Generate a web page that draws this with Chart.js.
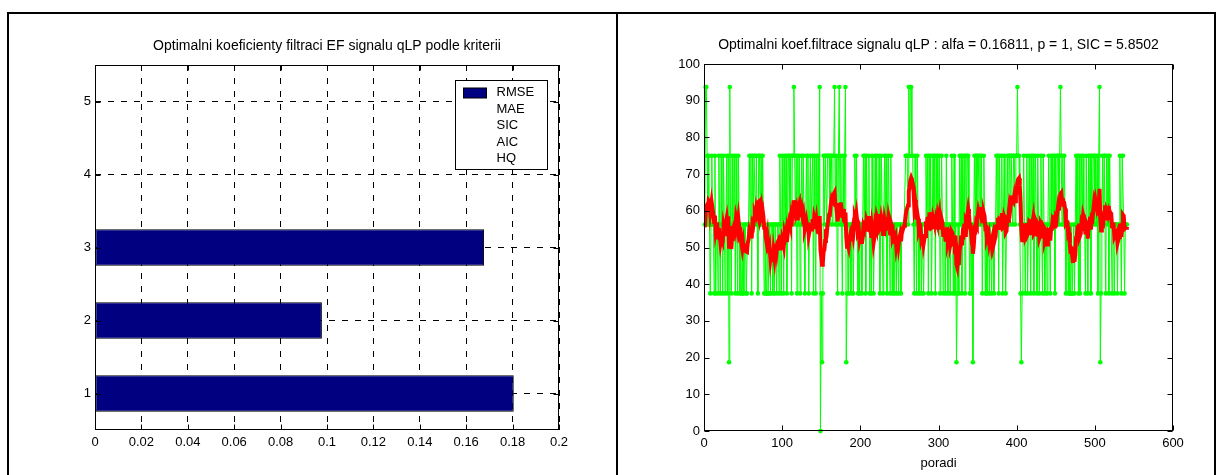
<!DOCTYPE html>
<html>
<head>
<meta charset="utf-8">
<script src="https://cdn.jsdelivr.net/npm/chart.js@4"></script>
<style>
  html, body { margin: 0; padding: 0; background: #fff; }
  body { width: 1222px; height: 475px; position: relative; overflow: hidden; }
  canvas { position: absolute; top: 0; }
  #leftChart { left: 0; }
  #rightChart { left: 617px; }
  .frame { position: absolute; left: 7px; top: 12px; width: 1205px; height: 470px; border: 2px solid #000; }
  .divider { position: absolute; left: 616px; top: 12px; width: 2px; height: 475px; background: #000; }
</style>
</head>
<body>
<canvas id="leftChart" width="617" height="475"></canvas>
<canvas id="rightChart" width="605" height="475"></canvas>
<div class="frame"></div>
<div class="divider"></div>
<script>
// left panel: optimal coefficients per criterion
const barCategories = ['1', '2', '3', '4', '5'];
const barValues = [0.1805, 0.0978, 0.1677, null, 0.0003];
const legendLabels = ['RMSE', 'MAE', 'SIC', 'AIC', 'HQ'];
const leftTitle = 'Optimalni koeficienty filtraci EF signalu qLP podle kriterii';

// right panel: signal qLP (green) and filtered signal (red)
const rightTitle = 'Optimalni koef.filtrace signalu qLP : alfa = 0.16811, p = 1, SIC = 5.8502';
const xAxisLabel = 'poradi';
const signalValues = [
  56.25,93.75,93.75,75,56.25,75,56.25,37.5,56.25,75,56.25,56.25,37.5,75,37.5,56.25,56.25,37.5,75,56.25,
  37.5,75,56.25,37.5,75,56.25,37.5,56.25,75,37.5,75,18.75,93.75,56.25,37.5,75,56.25,56.25,75,37.5,
  75,56.25,37.5,75,56.25,37.5,56.25,37.5,37.5,56.25,37.5,56.25,56.25,37.5,37.5,56.25,56.25,75,56.25,75,
  37.5,75,56.25,75,75,56.25,75,56.25,37.5,75,75,56.25,75,56.25,75,56.25,37.5,56.25,37.5,37.5,
  56.25,37.5,37.5,56.25,37.5,56.25,56.25,37.5,56.25,37.5,56.25,56.25,37.5,56.25,56.25,37.5,75,56.25,37.5,75,
  56.25,37.5,75,56.25,75,37.5,56.25,75,75,56.25,75,37.5,75,75,93.75,75,56.25,75,37.5,75,
  56.25,75,37.5,56.25,75,56.25,75,56.25,37.5,56.25,75,56.25,75,37.5,56.25,75,56.25,56.25,75,37.5,
  75,56.25,37.5,75,56.25,75,56.25,93.75,0,37.5,18.75,37.5,75,56.25,75,75,56.25,75,75,75,
  56.25,75,75,56.25,75,75,93.75,56.25,75,56.25,37.5,75,93.75,56.25,75,56.25,37.5,75,56.25,75,
  93.75,18.75,37.5,56.25,37.5,56.25,56.25,37.5,56.25,56.25,37.5,56.25,75,56.25,75,56.25,37.5,56.25,37.5,56.25,
  56.25,37.5,56.25,75,56.25,75,37.5,75,56.25,56.25,75,37.5,56.25,37.5,75,56.25,37.5,56.25,75,56.25,
  75,56.25,56.25,75,37.5,56.25,75,56.25,37.5,56.25,75,56.25,75,37.5,56.25,75,56.25,37.5,75,56.25,
  37.5,56.25,37.5,56.25,56.25,37.5,56.25,56.25,37.5,56.25,56.25,37.5,56.25,56.25,56.25,56.25,56.25,75,75,75,
  56.25,93.75,75,93.75,93.75,75,75,56.25,37.5,75,56.25,37.5,75,56.25,37.5,56.25,56.25,37.5,56.25,56.25,
  37.5,56.25,56.25,75,56.25,75,37.5,75,56.25,75,37.5,56.25,75,56.25,75,37.5,75,56.25,75,56.25,
  75,37.5,56.25,75,56.25,37.5,56.25,56.25,37.5,75,56.25,37.5,56.25,56.25,37.5,56.25,75,56.25,37.5,75,
  37.5,56.25,18.75,37.5,56.25,37.5,75,56.25,75,37.5,75,56.25,75,37.5,75,56.25,75,75,56.25,37.5,
  56.25,37.5,56.25,18.75,56.25,75,56.25,75,56.25,75,75,56.25,75,56.25,75,37.5,56.25,75,56.25,37.5,
  56.25,37.5,56.25,56.25,37.5,56.25,56.25,37.5,56.25,56.25,37.5,56.25,56.25,75,56.25,75,37.5,75,56.25,56.25,
  75,37.5,56.25,75,56.25,37.5,56.25,75,56.25,75,75,56.25,75,75,56.25,75,75,56.25,75,75,
  93.75,75,75,56.25,37.5,18.75,37.5,56.25,75,56.25,37.5,56.25,75,37.5,56.25,75,56.25,37.5,75,56.25,
  75,37.5,56.25,75,56.25,37.5,75,56.25,37.5,56.25,75,56.25,37.5,75,56.25,37.5,56.25,56.25,37.5,56.25,
  75,56.25,37.5,75,56.25,75,56.25,75,37.5,75,56.25,75,75,56.25,75,93.75,75,56.25,75,56.25,
  75,56.25,37.5,56.25,56.25,37.5,56.25,37.5,37.5,56.25,37.5,37.5,56.25,37.5,56.25,75,56.25,75,37.5,75,
  37.5,56.25,75,56.25,75,56.25,56.25,37.5,75,56.25,37.5,75,56.25,75,37.5,75,56.25,75,75,56.25,
  75,56.25,75,37.5,75,93.75,18.75,37.5,56.25,75,56.25,75,75,37.5,75,56.25,75,37.5,75,56.25,
  56.25,37.5,56.25,56.25,37.5,56.25,56.25,56.25,37.5,56.25,56.25,75,56.25,37.5,75,75,56.25,37.5,56.25,56.25,56.25
];
const filteredValues = [
  55.5,58.8,61.2,61.6,60.3,62.8,62.5,59.7,61.3,58.4,60.5,59.0,56.9,58.7,54.5,55.7,55.9,52.7,55.3,53.3,
  51.3,52.7,52.1,52.0,55.7,54.5,53.6,56.7,57.9,55.6,58.5,50.2,55.8,51.4,49.6,53.1,52.9,55.6,56.3,55.2,
  58.2,57.2,55.6,57.7,55.6,53.2,53.6,51.0,49.6,51.0,48.8,50.0,50.2,48.9,48.8,51.3,52.2,54.3,53.4,55.4,
  52.5,56.5,56.0,58.0,59.4,58.8,60.7,59.7,58.8,62.5,62.7,60.7,61.6,59.2,60.0,58.3,55.4,55.6,52.9,51.5,
  53.0,50.0,48.5,49.7,47.0,48.7,48.7,46.1,48.9,47.3,50.3,51.0,49.2,51.3,51.8,49.7,53.3,52.0,49.4,52.0,
  51.1,50.2,53.9,53.0,54.3,51.5,53.7,55.9,57.2,56.3,58.0,55.7,59.3,61.0,62.9,61.1,59.4,60.4,57.9,61.5,
  61.4,62.1,58.7,59.4,60.5,58.8,59.6,57.3,54.9,55.7,57.1,55.7,56.8,53.3,54.4,55.3,54.9,55.2,57.7,55.0,
  58.3,57.5,55.1,57.1,55.2,55.5,53.7,58.6,49.2,47.6,45.3,45.8,48.9,49.3,51.8,53.9,53.7,56.1,57.5,58.9,
  59.0,61.4,62.8,62.0,63.9,64.6,65.0,61.6,61.6,59.5,57.1,59.3,62.1,60.3,62.3,60.4,58.1,60.5,57.3,57.0,
  59.5,52.8,50.2,50.9,50.0,51.9,53.1,51.8,53.6,54.9,53.4,55.2,58.3,57.6,59.1,57.2,54.5,55.1,52.4,53.5,
  53.2,51.0,52.6,55.7,55.1,57.4,54.3,57.6,57.0,56.8,58.6,55.2,55.4,52.6,55.8,54.3,51.4,52.8,56.4,55.6,
  58.4,57.6,57.5,59.1,55.2,55.6,57.9,56.8,53.7,54.5,57.5,56.3,58.2,54.6,55.8,58.3,57.1,53.8,56.9,56.2,
  52.8,53.6,51.0,52.5,53.1,50.4,51.8,53.2,50.9,52.6,53.5,51.7,53.8,54.6,55.3,55.9,56.8,58.7,60.1,60.8,
  61.5,65.2,66.4,68.3,69.0,68.4,67.6,65.8,61.6,63.0,61.2,57.6,59.1,57.8,54.4,55.0,55.3,52.3,53.1,53.7,
  51.1,52.4,53.1,56.0,55.8,58.3,54.7,57.9,57.5,59.6,55.4,55.6,58.1,57.2,59.0,54.9,57.6,56.8,58.9,57.9,
  59.1,55.4,55.6,57.7,56.8,53.4,54.1,54.4,51.6,54.8,54.9,51.7,52.7,53.4,50.6,51.6,54.3,53.9,50.3,53.3,
  50.4,50.9,45.4,44.6,46.8,45.2,49.3,50.4,53.2,50.6,53.9,53.6,56.5,53.4,56.8,56.2,58.9,60.5,59.1,55.8,
  55.9,53.1,53.7,48.3,50.2,53.6,53.9,56.6,56.1,58.4,60.1,59.2,60.8,59.5,61.0,57.2,57.1,59.3,58.4,55.2,
  55.3,52.5,53.2,53.9,51.4,52.6,53.3,51.1,52.8,53.7,51.3,52.2,53.0,55.8,55.9,58.1,54.8,57.7,57.5,57.3,
  59.4,55.3,55.5,58.3,57.6,54.1,54.5,57.6,57.3,59.8,61.8,60.9,62.8,64.2,62.9,62.5,64.0,62.6,64.2,65.5,
  67.9,68.6,68.9,66.8,61.9,54.8,52.0,52.7,56.0,55.9,52.8,53.4,56.7,53.6,54.1,56.9,56.6,53.4,56.7,56.5,
  57.8,53.9,54.3,57.2,56.5,53.0,56.4,56.0,52.6,53.3,56.4,55.9,52.5,55.8,55.4,52.0,52.8,53.4,50.8,51.9,
  54.8,54.9,51.9,55.1,55.2,57.4,56.9,58.8,55.2,58.0,57.5,59.6,61.2,60.1,61.5,64.6,64.9,62.5,63.4,61.8,
  61.9,60.6,56.8,57.2,57.0,53.6,54.0,51.0,48.3,50.3,47.7,45.8,48.2,46.1,48.3,52.5,53.0,56.0,53.1,56.5,
  53.2,53.8,56.9,56.4,58.9,58.1,57.8,53.6,56.7,56.1,52.4,55.9,55.8,58.4,54.9,58.1,57.8,60.1,62.1,60.8,
  62.6,61.4,63.0,58.7,60.9,66.0,58.1,54.6,55.0,57.7,57.2,59.5,61.5,57.4,59.9,59.2,61.3,57.5,59.9,59.4,
  59.2,55.7,56.0,56.1,52.9,53.4,53.8,54.2,51.2,52.1,52.8,56.0,56.0,52.9,56.2,58.9,58.6,55.1,55.3,55.4,55.6
];

const fontFamily = '"Liberation Sans", Arial, sans-serif';
const tickFont = { family: fontFamily, size: 13 };

// MATLAB-style axes box with inward tick marks
const axesBox = {
  id: 'axesBox',
  afterDatasetsDraw(chart) {
    const { ctx, chartArea: a, scales } = chart;
    const L = Math.round(a.left) + 0.5, R = Math.round(a.right) - 0.5;
    const T = Math.round(a.top) + 0.5, B = Math.round(a.bottom) - 0.5;
    ctx.save();
    ctx.strokeStyle = '#000';
    ctx.lineWidth = 1;
    ctx.setLineDash([]);
    ctx.beginPath();
    scales.x.ticks.forEach((t, i) => {
      const px = Math.round(scales.x.getPixelForTick(i)) + 0.5;
      ctx.moveTo(px, B); ctx.lineTo(px, B - 5);
      ctx.moveTo(px, T); ctx.lineTo(px, T + 5);
    });
    scales.y.ticks.forEach((t, i) => {
      const py = Math.round(scales.y.getPixelForTick(i)) + 0.5;
      ctx.moveTo(L, py); ctx.lineTo(L + 5, py);
      ctx.moveTo(R, py); ctx.lineTo(R - 5, py);
    });
    ctx.stroke();
    ctx.strokeRect(L, T, R - L, B - T);
    ctx.restore();
  }
};

// title centred over the axes, like MATLAB does it
const axesTitle = {
  id: 'axesTitle',
  afterDraw(chart, args, opts) {
    const { ctx, chartArea: a } = chart;
    ctx.save();
    ctx.font = '14px ' + fontFamily;
    ctx.fillStyle = '#000';
    ctx.textAlign = 'center';
    ctx.textBaseline = 'middle';
    ctx.fillText(opts.text, (a.left + a.right) / 2, a.top - 19);
    ctx.restore();
  }
};

const legendBox = {
  id: 'legendBox',
  afterDraw(chart) {
    const { ctx, chartArea } = chart;
    const w = 92, h = 89;
    const x0 = Math.round(chartArea.right - 12 - w) + 0.5;
    const y0 = Math.round(chartArea.top + 15) + 0.5;
    ctx.save();
    ctx.fillStyle = '#fff';
    ctx.fillRect(x0, y0, w, h);
    ctx.strokeStyle = '#000';
    ctx.lineWidth = 1;
    ctx.strokeRect(x0, y0, w, h);
    ctx.font = '13px ' + fontFamily;
    ctx.textBaseline = 'middle';
    legendLabels.forEach((label, i) => {
      const cy = y0 + 12 + i * 16.6;
      if (i === 0) {
        ctx.fillStyle = '#000080';
        ctx.fillRect(x0 + 8, Math.round(cy - 5), 23, 10);
        ctx.strokeRect(x0 + 8, Math.round(cy - 5), 23, 10);
      }
      ctx.fillStyle = '#000';
      ctx.fillText(label, x0 + 41, cy);
    });
    ctx.restore();
  }
};

new Chart(document.getElementById('leftChart'), {
  type: 'bar',
  data: {
    labels: barCategories,
    datasets: [{
      label: legendLabels[0],
      data: barValues,
      backgroundColor: '#000080',
      borderColor: '#000',
      borderWidth: 1,
      borderSkipped: false,
      categoryPercentage: 1,
      barPercentage: 0.5
    }]
  },
  options: {
    indexAxis: 'y',
    responsive: false,
    animation: false,
    devicePixelRatio: 1,
    layout: { padding: { top: 65, right: 58, left: 0, bottom: 0 } },
    plugins: {
      legend: { display: false },
      tooltip: { enabled: false },
      axesTitle: { text: leftTitle }
    },
    scales: {
      x: {
        min: 0,
        max: 0.2,
        ticks: {
          stepSize: 0.02, padding: 5, color: '#000', font: tickFont, maxRotation: 0,
          callback: v => String(+v.toFixed(2))
        },
        grid: { color: '#000', drawTicks: false },
        border: { display: false, dash: [6, 7] },
        afterFit: s => { s.height = 45; }
      },
      y: {
        reverse: true,
        ticks: { padding: 4, color: '#000', font: tickFont },
        grid: { offset: false, color: '#000', drawTicks: false },
        border: { display: false, dash: [6, 7] },
        afterFit: s => { s.width = 95; }
      }
    }
  },
  plugins: [axesBox, legendBox, axesTitle]
});

new Chart(document.getElementById('rightChart'), {
  type: 'line',
  data: {
    datasets: [{
      label: 'filtered',
      data: filteredValues.map((v, i) => ({ x: i + 1, y: v })),
      borderColor: '#ff0000',
      borderWidth: 4,
      pointRadius: 0,
      tension: 0
    }, {
      label: 'qLP',
      data: signalValues.map((v, i) => ({ x: i + 1, y: v })),
      borderColor: '#00ff00',
      borderWidth: 1,
      pointRadius: 2.3,
      pointBackgroundColor: '#00ff00',
      pointBorderWidth: 0,
      tension: 0,
      clip: false
    }]
  },
  options: {
    responsive: false,
    animation: false,
    devicePixelRatio: 1,
    layout: { padding: { top: 64, right: 49, left: 0, bottom: 0 } },
    plugins: {
      legend: { display: false },
      tooltip: { enabled: false },
      axesTitle: { text: rightTitle }
    },
    scales: {
      x: {
        type: 'linear',
        min: 0,
        max: 600,
        ticks: { stepSize: 100, padding: 5, color: '#000', font: tickFont, maxRotation: 0 },
        grid: { display: false, drawTicks: false },
        border: { display: false },
        title: { display: true, text: xAxisLabel, color: '#000', font: tickFont, padding: { top: 0, bottom: 4 } },
        afterFit: s => { s.height = 44; }
      },
      y: {
        min: 0,
        max: 100,
        ticks: { stepSize: 10, padding: 4, color: '#000', font: tickFont },
        grid: { display: false, drawTicks: false },
        border: { display: false },
        afterFit: s => { s.width = 87; }
      }
    }
  },
  plugins: [axesBox, axesTitle]
});
</script>
</body>
</html>
